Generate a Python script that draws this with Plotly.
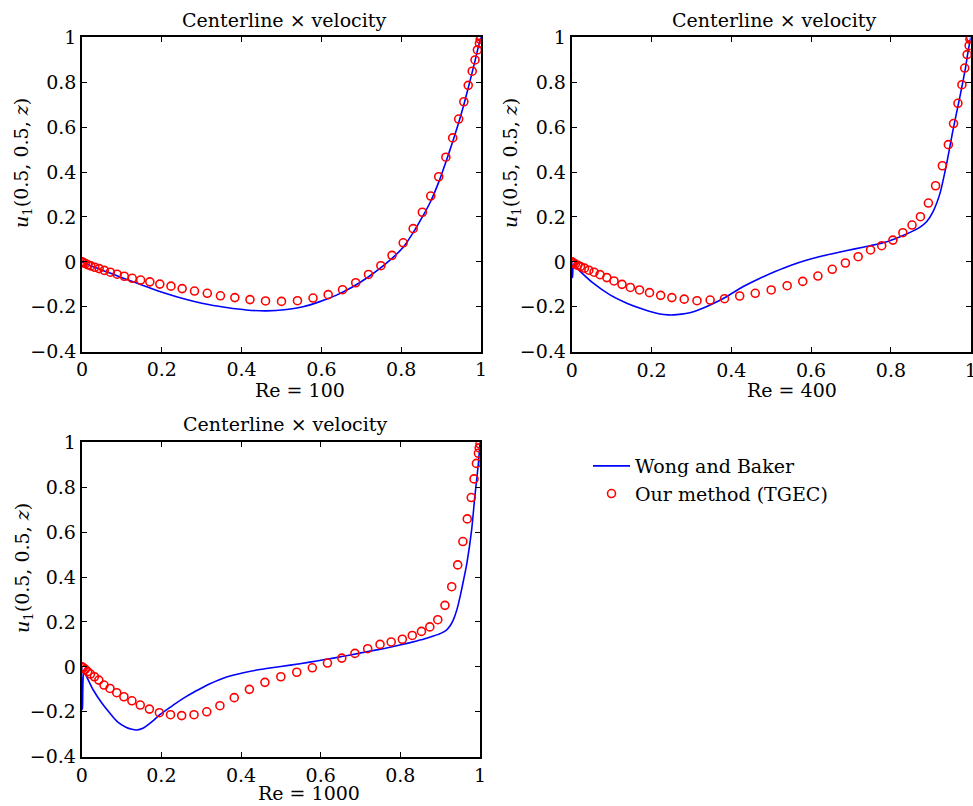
import plotly.graph_objects as go

# ---------------- data ----------------
# shared z grid of the TGEC markers
z_grid = [0, 0.002, 0.004, 0.009, 0.015, 0.022, 0.032, 0.043, 0.056, 0.071, 0.088, 0.106,
          0.126, 0.147, 0.170, 0.195, 0.223, 0.251, 0.282, 0.314, 0.347, 0.383, 0.421, 0.460,
          0.500, 0.540, 0.579, 0.617, 0.653, 0.686, 0.718, 0.749, 0.777, 0.805, 0.830, 0.853,
          0.874, 0.894, 0.912, 0.929, 0.944, 0.957, 0.968, 0.978, 0.985, 0.991, 0.996, 0.998, 1.0]

tgec_re100 = [0, -0.002, -0.004, -0.008, -0.013, -0.018, -0.024, -0.030, -0.038, -0.046, -0.055,
              -0.064, -0.073, -0.081, -0.089, -0.099, -0.108, -0.119, -0.130, -0.140, -0.151,
              -0.159, -0.168, -0.174, -0.176, -0.173, -0.161, -0.146, -0.124, -0.093, -0.056,
              -0.017, 0.029, 0.085, 0.148, 0.221, 0.293, 0.379, 0.466, 0.552, 0.636, 0.713,
              0.786, 0.849, 0.899, 0.944, 0.973, 0.991, 1.0]

tgec_re400 = [0, -0.002, -0.005, -0.010, -0.015, -0.021, -0.028, -0.037, -0.046, -0.057, -0.070,
              -0.085, -0.100, -0.114, -0.125, -0.137, -0.149, -0.159, -0.166, -0.173, -0.170,
              -0.164, -0.152, -0.140, -0.125, -0.106, -0.087, -0.063, -0.033, -0.005, 0.023,
              0.053, 0.072, 0.097, 0.130, 0.164, 0.201, 0.262, 0.339, 0.428, 0.522, 0.616,
              0.706, 0.789, 0.863, 0.923, 0.963, 0.991, 0.999]

tgec_re1000 = [0, -0.002, -0.004, -0.011, -0.021, -0.032, -0.044, -0.059, -0.081, -0.096, -0.115,
               -0.133, -0.151, -0.170, -0.188, -0.204, -0.213, -0.217, -0.213, -0.200, -0.173,
               -0.137, -0.100, -0.069, -0.044, -0.024, -0.004, 0.017, 0.039, 0.060, 0.081,
               0.100, 0.111, 0.123, 0.140, 0.158, 0.178, 0.210, 0.274, 0.357, 0.454, 0.558,
               0.659, 0.754, 0.837, 0.906, 0.951, 0.975, 0.992]

# Wong and Baker reference curves
wb_z_re100 = [0, 0.028, 0.070, 0.112, 0.155, 0.195, 0.237, 0.279, 0.320, 0.362, 0.412, 0.462,
              0.513, 0.554, 0.596, 0.638, 0.679, 0.721, 0.763, 0.805, 0.830, 0.853, 0.874,
              0.894, 0.912, 0.929, 0.944, 0.957, 0.968, 0.978, 0.985, 0.991, 0.996, 1.0]
wb_u_re100 = [0, -0.022, -0.050, -0.078, -0.106, -0.132, -0.155, -0.175, -0.191, -0.203, -0.214,
              -0.218, -0.212, -0.200, -0.177, -0.148, -0.111, -0.063, -0.006, 0.065, 0.130,
              0.200, 0.270, 0.355, 0.445, 0.535, 0.620, 0.700, 0.775, 0.845, 0.895, 0.940,
              0.975, 1.0]

wb_z_re400 = [0, 0.002, 0.005, 0.020, 0.054, 0.096, 0.138, 0.179, 0.221, 0.242, 0.263, 0.305,
              0.347, 0.388, 0.430, 0.472, 0.510, 0.550, 0.590, 0.630, 0.670, 0.710, 0.750,
              0.790, 0.823, 0.856, 0.873, 0.890, 0.906, 0.923, 0.940, 0.956, 0.973, 0.986,
              0.994, 1.0]
wb_u_re400 = [0, -0.070, -0.012, -0.040, -0.095, -0.147, -0.184, -0.211, -0.232, -0.236, -0.235,
              -0.222, -0.192, -0.155, -0.110, -0.073, -0.043, -0.015, 0.008, 0.027, 0.043,
              0.058, 0.073, 0.090, 0.112, 0.138, 0.155, 0.180, 0.225, 0.305, 0.440, 0.590,
              0.736, 0.854, 0.943, 1.0]

wb_z_re1000 = [0, 0.002, 0.006, 0.029, 0.050, 0.071, 0.090, 0.111, 0.126, 0.138, 0.155, 0.175,
               0.197, 0.218, 0.238, 0.260, 0.280, 0.300, 0.322, 0.344, 0.364, 0.406, 0.447,
               0.500, 0.548, 0.590, 0.632, 0.675, 0.715, 0.760, 0.799, 0.841, 0.866, 0.883,
               0.900, 0.915, 0.925, 0.933, 0.942, 0.950, 0.958, 0.967, 0.979, 0.987, 0.996, 1.0]
wb_u_re1000 = [0, -0.190, -0.028, -0.103, -0.160, -0.207, -0.245, -0.269, -0.278, -0.281, -0.272,
               -0.246, -0.212, -0.185, -0.160, -0.135, -0.114, -0.095, -0.075, -0.058, -0.045,
               -0.026, -0.012, 0.002, 0.014, 0.026, 0.039, 0.053, 0.067, 0.082, 0.097, 0.115,
               0.127, 0.137, 0.148, 0.163, 0.183, 0.209, 0.255, 0.313, 0.380, 0.461, 0.610,
               0.758, 0.906, 1.0]

x_tickvals = [0, 0.2, 0.4, 0.6, 0.8, 1]
x_ticktext = ["0", "0.2", "0.4", "0.6", "0.8", "1"]
y_tickvals = [-0.4, -0.2, 0, 0.2, 0.4, 0.6, 0.8, 1]
y_ticktext = ["\u22120.4", "\u22120.2", "0", "0.2", "0.4", "0.6", "0.8", "1"]

panel_titles = ["Centerline \u00d7 velocity"] * 3
x_labels = ["Re = 100", "Re = 400", "Re = 1000"]
y_label = "<i>u</i><sub>1</sub>(0.5, 0.5, <i>z</i>)"
legend_names = ["Wong and Baker", "Our method (TGEC)"]

# ---------------- layout geometry (pixels in the 973x806 window) ----------------
W, H = 973, 806
FONT = "DejaVu Serif"
FS = 19

def px(x):
    return x / W

def py(y):
    return 1 - y / H

panels = [
    dict(x0=82.0, x1=481.0, y0=37.3, y1=351.7, lw=1.5,
         title=(284, 20), xl=(300, 390), yl=(23, 163)),
    dict(x0=571.7, x1=970.7, y0=37.3, y1=351.7, lw=2,
         title=(774, 20), xl=(792, 390), yl=(512, 163)),
    dict(x0=81.7, x1=480.0, y0=442.3, y1=756.7, lw=2,
         title=(285, 424), xl=(309, 793), yl=(23, 568)),
]

lines = [(wb_z_re100, wb_u_re100), (wb_z_re400, wb_u_re400), (wb_z_re1000, wb_u_re1000)]
marks = [tgec_re100, tgec_re400, tgec_re1000]

fig = go.Figure()
annotations = []
for i, p in enumerate(panels):
    n = "" if i == 0 else str(i + 1)
    xa, ya = "x" + n, "y" + n
    fig.add_trace(go.Scatter(
        x=lines[i][0], y=lines[i][1], mode="lines", name=legend_names[0],
        line=dict(color="#0000ff", width=1.6, shape="spline", smoothing=0.6),
        xaxis=xa, yaxis=ya, showlegend=(i == 0), legendrank=1))
    fig.add_trace(go.Scatter(
        x=z_grid, y=marks[i], mode="markers", name=legend_names[1],
        marker=dict(symbol="circle-open", color="#ff0000", size=8, line=dict(width=1.6)),
        xaxis=xa, yaxis=ya, showlegend=(i == 0), legendrank=2))

    axis_common = dict(showgrid=False, zeroline=False, showline=True, linecolor="black",
                       linewidth=p["lw"], mirror="ticks", ticks="inside", ticklen=5,
                       tickwidth=1, tickcolor="black", automargin=False,
                       ticklabeloverflow="allow",
                       tickfont=dict(family=FONT, size=FS, color="black"))
    fig.update_layout(**{
        "xaxis" + n: dict(domain=[px(p["x0"]), px(p["x1"])], range=[0, 1],
                          tickvals=x_tickvals, ticktext=x_ticktext, anchor=ya,
                          **axis_common),
        "yaxis" + n: dict(domain=[py(p["y1"]), py(p["y0"])], range=[-0.4, 1],
                          tickvals=y_tickvals, ticktext=y_ticktext, anchor=xa,
                          **axis_common),
    })
    annotations.append(dict(text=panel_titles[i], x=px(p["title"][0]), y=py(p["title"][1]),
                            xref="paper", yref="paper", showarrow=False,
                            xanchor="center", yanchor="middle",
                            font=dict(family=FONT, size=FS, color="black")))
    annotations.append(dict(text=x_labels[i], x=px(p["xl"][0]), y=py(p["xl"][1]),
                            xref="paper", yref="paper", showarrow=False,
                            xanchor="center", yanchor="middle",
                            font=dict(family=FONT, size=FS, color="black")))
    annotations.append(dict(text=y_label, x=px(p["yl"][0]), y=py(p["yl"][1]),
                            xref="paper", yref="paper", showarrow=False, textangle=-90,
                            xanchor="center", yanchor="middle",
                            font=dict(family=FONT, size=FS, color="black")))

fig.update_layout(
    width=W, height=H,
    margin=dict(l=0, r=0, t=0, b=0, pad=0, autoexpand=False),
    paper_bgcolor="white", plot_bgcolor="white",
    annotations=annotations,
    showlegend=True,
    legend=dict(x=px(588), y=py(447), xanchor="left", yanchor="top",
                bgcolor="rgba(0,0,0,0)", borderwidth=0,
                font=dict(family=FONT, size=FS, color="black"),
                itemwidth=37, tracegroupgap=0),
)

# remove the default 8px page margin so the 973x806 figure fills the window exactly
fig.write_html("out.html", config={"displayModeBar": False},
               post_script="document.body.style.margin='0px';")
